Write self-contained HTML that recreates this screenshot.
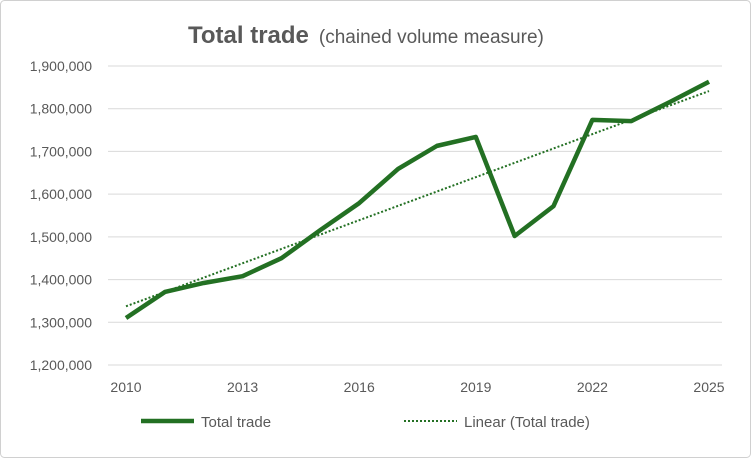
<!DOCTYPE html>
<html><head><meta charset="utf-8"><style>
body{margin:0;background:#fff;}
svg{display:block;font-family:"Liberation Sans",sans-serif;}
</style></head><body>
<svg id="c" width="751" height="458">
<rect x="0.5" y="0.5" width="750" height="457" rx="4" fill="#fff" stroke="#d0d0d0"/>
<text x="188" y="43" font-size="24" font-weight="bold" fill="#595959">Total trade<tspan font-size="19" font-weight="normal" dx="10">(chained volume measure)</tspan></text>
<g id="grid"></g><g id="ylab"></g><g id="xlab"></g><g id="series"></g>
<g>
<line x1="141" y1="421" x2="194" y2="421" stroke="#237023" stroke-width="4.5"/>
<text x="201" y="427" font-size="15" fill="#595959">Total trade</text>
<line x1="404" y1="421" x2="457" y2="421" stroke="#237023" stroke-width="2" stroke-dasharray="2,2"/>
<text x="464" y="427" font-size="15" fill="#595959">Linear (Total trade)</text>
</g>
</svg>
<script>
const years=[2010,2011,2012,2013,2014,2015,2016,2017,2018,2019,2020,2021,2022,2023,2024,2025];
const values=[1310000,1371000,1392000,1408000,1450000,1516000,1579000,1659000,1713000,1734000,1502000,1572000,1774000,1771000,1816000,1863000];
const yTicks=[1200000,1300000,1400000,1500000,1600000,1700000,1800000,1900000];
const xTicks=[2010,2013,2016,2019,2022,2025];
const NS="http://www.w3.org/2000/svg";
const X=v=>126+(v-2010)*(709-126)/15;
const Y=v=>365-(v-1200000)*(365-66)/700000;
function mk(t,a,p){const e=document.createElementNS(NS,t);for(const k in a)e.setAttribute(k,a[k]);p.appendChild(e);return e;}
const grid=document.getElementById('grid'),yl=document.getElementById('ylab'),xl=document.getElementById('xlab'),s=document.getElementById('series');
yTicks.forEach(v=>{
 const l=mk('line',{x1:108,x2:722,y1:Y(v),y2:Y(v),stroke:'#d9d9d9','stroke-width':1},grid);
 
 
 const t=mk('text',{x:92,y:Y(v)+5,'font-size':14,fill:'#595959','text-anchor':'end'},yl);
 t.textContent=v.toLocaleString('en-US');
 
 
});
xTicks.forEach(v=>{
 const t=mk('text',{x:X(v),y:392,'font-size':14,fill:'#595959','text-anchor':'middle'},xl);
 t.textContent=v;
 
 
});
const line=mk('polyline',{points:years.map((y,i)=>X(y)+','+Y(values[i])).join(' '),fill:'none',stroke:'#237023','stroke-width':4.5,'stroke-linejoin':'round'},s);


const n=years.length,mx=years.reduce((a,b)=>a+b)/n,my=values.reduce((a,b)=>a+b)/n;
let sxy=0,sxx=0;years.forEach((y,i)=>{sxy+=(y-mx)*(values[i]-my);sxx+=(y-mx)*(y-mx);});
const b=sxy/sxx,f=y=>my+b*(y-mx);
const tr=mk('line',{x1:X(2010),y1:Y(f(2010)),x2:X(2025),y2:Y(f(2025)),stroke:'#237023','stroke-width':2,'stroke-dasharray':'2,2'},s);


</script>
</body></html>
